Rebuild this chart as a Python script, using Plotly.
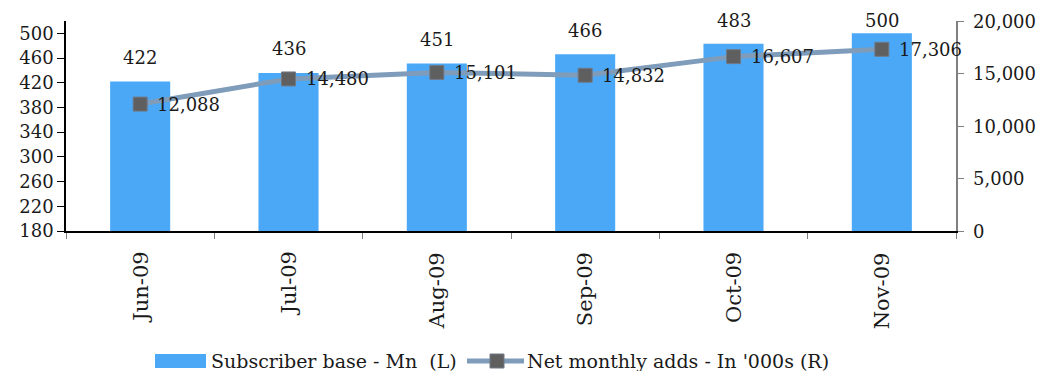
import plotly.graph_objects as go

months = ["Jun-09", "Jul-09", "Aug-09", "Sep-09", "Oct-09", "Nov-09"]
subscriber_base = [422, 436, 451, 466, 483, 500]
net_adds = [12088, 14480, 15101, 14832, 16607, 17306]
left_ticks = [180, 220, 260, 300, 340, 380, 420, 460, 500]
right_ticks = [0, 5000, 10000, 15000, 20000]

FONT = "DejaVu Serif"
TXT = "#1a1a1a"
BAR_COLOR = "#4ba8f7"
LINE_COLOR = "#7f9cba"
MARK_COLOR = "#5f5f60"

W, H = 1057, 371
L, R, T, B = 66, 101, 21, 140
PW, PH = W - L - R, H - T - B
Y_RANGE = [180, 520]


def px_x(px):
    return (px - L) / PW


def px_y(py):
    return (H - B - py) / PH


fig = go.Figure()
fig.add_trace(go.Bar(
    x=months, y=subscriber_base,
    name="Subscriber base - Mn  (L)",
    marker=dict(color=BAR_COLOR, line=dict(width=0)),
    showlegend=False,
))
fig.add_trace(go.Scatter(
    x=months, y=net_adds, yaxis="y2",
    name="Net monthly adds - In '000s (R)",
    mode="lines+markers",
    line=dict(color=LINE_COLOR, width=5),
    marker=dict(symbol="square", size=14, color=MARK_COLOR,
                line=dict(color="#707a86", width=1)),
    cliponaxis=False,
    showlegend=False,
))

annotations = []
# value labels above the bars, kept inside the top of the chart area
for m, v in zip(months, subscriber_base):
    room = (Y_RANGE[1] - v) * PH / (Y_RANGE[1] - Y_RANGE[0])
    annotations.append(dict(
        x=m, y=v, xref="x", yref="y", text=str(v), showarrow=False,
        yanchor="middle", yshift=min(24, room),
        font=dict(family=FONT, size=18, color=TXT),
    ))
# value labels to the right of the line markers
for m, v in zip(months, net_adds):
    annotations.append(dict(
        x=m, y=v, xref="x", yref="y2", text=f"{v:,}", showarrow=False,
        xanchor="left", yanchor="middle", xshift=15,
        font=dict(family=FONT, size=18, color=TXT),
    ))

# rotated month labels under the category axis
for m in months:
    annotations.append(dict(
        x=m, y=0, xref="x", yref="paper", text=m, showarrow=False,
        textangle=-90, xanchor="center", yanchor="top", yshift=-19,
        font=dict(family=FONT, size=21, color=TXT),
    ))

# right-hand axis labels
for v in right_ticks:
    annotations.append(dict(
        x=1, y=v, xref="paper", yref="y2", text=f"{v:,}", showarrow=False,
        xanchor="left", yanchor="middle", xshift=15,
        font=dict(family=FONT, size=18, color=TXT),
    ))

# legend drawn below the axis labels
leg_y = 361
shapes = [
    dict(type="rect", xref="paper", yref="paper",
         x0=px_x(155), x1=px_x(206), y0=px_y(368), y1=px_y(354),
         fillcolor=BAR_COLOR, line=dict(width=0)),
    dict(type="line", xref="paper", yref="paper",
         x0=px_x(467), x1=px_x(524), y0=px_y(leg_y), y1=px_y(leg_y),
         line=dict(color=LINE_COLOR, width=5)),
    dict(type="rect", xref="paper", yref="paper",
         x0=px_x(490), x1=px_x(504), y0=px_y(368), y1=px_y(354),
         fillcolor=MARK_COLOR, line=dict(color="#707a86", width=1)),
]
annotations += [
    dict(x=px_x(209), y=px_y(leg_y), xref="paper", yref="paper",
         text="Subscriber base - Mn  (L)", showarrow=False,
         xanchor="left", yanchor="middle",
         font=dict(family=FONT, size=19, color=TXT)),
    dict(x=px_x(525), y=px_y(leg_y), xref="paper", yref="paper",
         text="Net monthly adds - In '000s (R)", showarrow=False,
         xanchor="left", yanchor="middle",
         font=dict(family=FONT, size=19, color=TXT)),
]

fig.update_layout(
    width=W, height=H,
    margin=dict(l=L, r=R, t=T, b=B),
    paper_bgcolor="white", plot_bgcolor="white",
    font=dict(family=FONT, size=18, color=TXT),
    bargap=0.595,
    showlegend=False,
    shapes=shapes,
    annotations=annotations,
    xaxis=dict(
        range=[-0.5, len(months) - 0.5], autorange=False,
        showline=True, linecolor="#000000", linewidth=1.5,
        ticks="outside", tickson="boundaries", ticklen=6, tickcolor="#808080",
        showticklabels=False,
        showgrid=False, automargin=False,
    ),
    yaxis=dict(
        range=Y_RANGE, tickvals=left_ticks,
        showline=True, linecolor="#000000", linewidth=1.5,
        ticks="outside", ticklen=7, tickcolor="#000000",
        showgrid=False, zeroline=False, automargin=False,
        tickfont=dict(family=FONT, size=18, color=TXT),
    ),
    yaxis2=dict(
        range=[0, 20000], tickvals=right_ticks,
        overlaying="y", side="right",
        showline=True, linecolor="#808080", linewidth=1.5,
        ticks="outside", ticklen=6, tickcolor="#808080",
        showticklabels=False,
        showgrid=False, zeroline=False, automargin=False,
    ),
)

fig.write_html("out.html")
